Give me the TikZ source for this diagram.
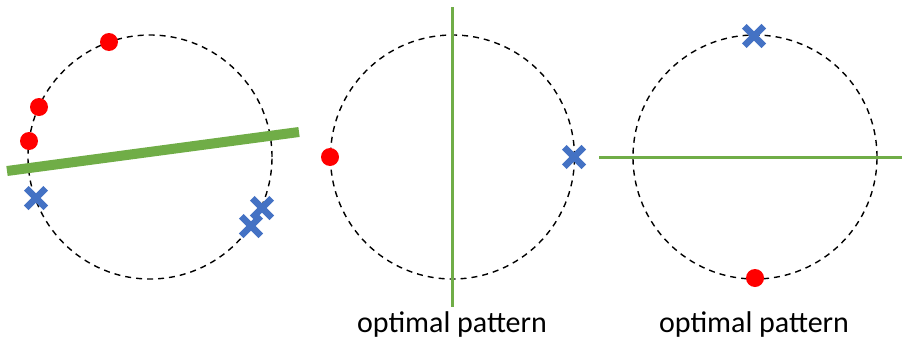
\documentclass[tikz,border=0pt]{standalone}
\usepackage{fontspec}
\setmainfont{Carlito}
\usetikzlibrary{shapes.misc}
\definecolor{ptred}{HTML}{FF0000}
\definecolor{ptblue}{HTML}{4472C4}
\definecolor{sepgreen}{HTML}{70AD47}
\begin{document}
\begin{tikzpicture}[x=1pt,y=-1pt,
  ring/.style={draw=black,dashed,line width=1.4pt,dash pattern=on 6pt off 5pt,circle,minimum size=244pt,inner sep=0pt},
  dot/.style={circle,fill=ptred,minimum size=18pt,inner sep=0pt},
  xmark/.style={cross out,draw=ptblue,line width=6.5pt,minimum size=13pt,inner sep=0pt},
  sep/.style={draw=sepgreen,line width=3pt},
  label/.style={font=\fontsize{30}{36}\selectfont,anchor=base,inner sep=0pt}]
\useasboundingbox (0,0) rectangle (902,343);
% circle 1
\node[ring] (c1) at (150,157) {};
\node[dot] (r1a) at (109,42) {};
\node[dot] (r1b) at (39,107) {};
\node[dot] (r1c) at (29,141) {};
\node[xmark] (b1a) at (36,198) {};
\node[xmark] (b1b) at (262,208) {};
\node[xmark] (b1c) at (251,226) {};
\coordinate (g1s) at (7,171);
\coordinate (g1e) at (299,132);
\draw[sep,line width=10pt] (g1s) -- (g1e);
% circle 2
\node[ring] (c2) at (452.5,157) {};
\coordinate (g2s) at (452,7);
\coordinate (g2e) at (452,307);
\draw[sep] (g2s) -- (g2e);
\node[dot] (r2) at (330,157) {};
\node[xmark] (b2) at (574,157) {};
\node[label] (t2) at (452,332) {optimal pattern};
% circle 3
\node[ring] (c3) at (755,157) {};
\coordinate (g3s) at (599,157);
\coordinate (g3e) at (902,157);
\draw[sep] (g3s) -- (g3e);
\node[xmark] (b3) at (754,36) {};
\node[dot] (r3) at (755,278) {};
\node[label] (t3) at (754,332) {optimal pattern};
\end{tikzpicture}
\end{document}
